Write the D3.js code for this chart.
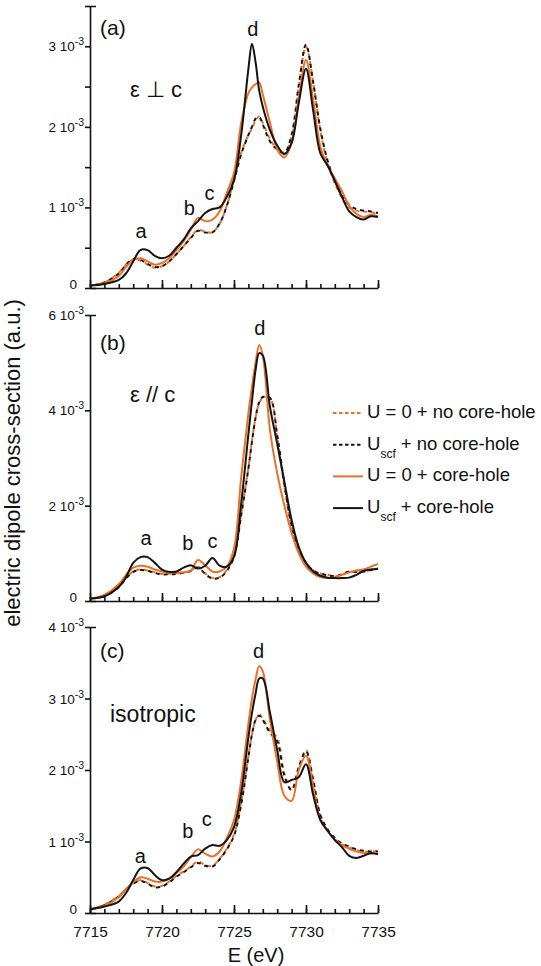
<!DOCTYPE html>
<html>
<head>
<meta charset="utf-8">
<script src="https://cdn.jsdelivr.net/npm/d3@7"></script>
<style>
  body { margin: 0; background: #fff; }
  text { font-family: "Liberation Sans", Arial, sans-serif; fill: #111; }
</style>
</head>
<body>
<svg id="chart"></svg>
<script>
// photon energy (eV), shared by every curve
const energy = [7715, 7716, 7717, 7717.5, 7718, 7718.5, 7719, 7719.5, 7720, 7720.5,
  7721, 7721.5, 7722, 7722.5, 7723, 7723.5, 7724, 7724.5, 7725, 7725.5,
  7726, 7726.25, 7726.5, 7726.75, 7727, 7727.5, 7728, 7728.5, 7729, 7729.5,
  7730, 7730.5, 7731, 7731.5, 7732, 7732.5, 7733, 7733.5, 7734, 7734.5, 7735];

// (a) eps perp c, values in 1e-3 a.u.
const perpU0 = [0.03, 0.07, 0.19, 0.29, 0.35, 0.34, 0.29, 0.25, 0.27, 0.33, 0.42, 0.52, 0.63, 0.72, 0.70, 0.69, 0.80, 1.02, 1.35, 1.68, 1.90, 1.98, 2.08, 2.13, 2.05, 1.85, 1.72, 1.67, 1.88, 2.50, 3.00, 2.55, 1.95, 1.55, 1.30, 1.12, 1.00, 0.96, 0.95, 0.94, 0.92];
const perpUscf = [0.03, 0.07, 0.18, 0.29, 0.36, 0.35, 0.30, 0.26, 0.27, 0.33, 0.42, 0.52, 0.62, 0.71, 0.69, 0.69, 0.80, 1.02, 1.33, 1.66, 1.90, 2.00, 2.10, 2.12, 2.03, 1.82, 1.72, 1.68, 1.90, 2.52, 3.02, 2.55, 1.97, 1.58, 1.33, 1.15, 1.03, 0.98, 0.96, 0.95, 0.93];
const perpU0Hole = [0.03, 0.06, 0.15, 0.26, 0.35, 0.37, 0.33, 0.29, 0.31, 0.37, 0.47, 0.58, 0.72, 0.87, 0.83, 0.85, 0.95, 1.18, 1.43, 2.05, 2.42, 2.49, 2.53, 2.55, 2.40, 2.05, 1.72, 1.62, 1.80, 2.35, 2.83, 2.33, 1.75, 1.52, 1.36, 1.20, 1.02, 0.92, 0.88, 0.91, 0.89];
const perpUscfHole = [0.03, 0.05, 0.10, 0.18, 0.33, 0.47, 0.47, 0.40, 0.37, 0.40, 0.50, 0.60, 0.74, 0.83, 0.93, 0.98, 1.00, 1.13, 1.34, 1.90, 2.72, 3.03, 2.80, 2.45, 2.25, 1.96, 1.77, 1.66, 1.80, 2.30, 2.72, 2.20, 1.67, 1.52, 1.33, 1.13, 0.95, 0.88, 0.85, 0.89, 0.88];

// (b) eps // c
const parU0 = [0.05, 0.10, 0.30, 0.48, 0.62, 0.66, 0.64, 0.60, 0.57, 0.57, 0.58, 0.60, 0.64, 0.72, 0.58, 0.48, 0.50, 0.65, 0.95, 1.84, 2.80, 3.37, 3.85, 4.15, 4.26, 4.25, 3.45, 2.40, 1.55, 1.07, 0.80, 0.65, 0.58, 0.55, 0.52, 0.55, 0.62, 0.60, 0.62, 0.65, 0.68];
const parUscf = [0.05, 0.10, 0.29, 0.47, 0.61, 0.65, 0.63, 0.59, 0.56, 0.56, 0.57, 0.59, 0.63, 0.70, 0.57, 0.47, 0.49, 0.63, 0.93, 1.80, 2.78, 3.35, 3.85, 4.17, 4.28, 4.26, 3.48, 2.45, 1.58, 1.08, 0.80, 0.64, 0.57, 0.54, 0.52, 0.56, 0.62, 0.61, 0.62, 0.65, 0.68];
const parU0Hole = [0.05, 0.13, 0.35, 0.55, 0.70, 0.74, 0.72, 0.66, 0.62, 0.60, 0.60, 0.60, 0.64, 0.86, 0.75, 0.62, 0.62, 0.72, 1.10, 2.60, 3.94, 4.50, 5.00, 5.37, 5.15, 3.58, 2.68, 2.00, 1.43, 1.00, 0.72, 0.58, 0.50, 0.48, 0.50, 0.55, 0.60, 0.64, 0.66, 0.72, 0.78];
const parUscfHole = [0.05, 0.10, 0.30, 0.50, 0.80, 0.92, 0.92, 0.80, 0.66, 0.61, 0.62, 0.70, 0.75, 0.68, 0.74, 0.90, 0.74, 0.72, 0.93, 2.05, 3.50, 4.20, 4.85, 5.20, 5.15, 4.07, 3.30, 2.50, 1.70, 1.13, 0.80, 0.62, 0.53, 0.49, 0.48, 0.48, 0.49, 0.55, 0.63, 0.66, 0.67];

// (c) isotropic
const isoU0 = [0.05, 0.12, 0.24, 0.34, 0.42, 0.46, 0.42, 0.37, 0.38, 0.44, 0.52, 0.58, 0.65, 0.72, 0.67, 0.66, 0.76, 0.90, 1.10, 1.55, 2.20, 2.50, 2.70, 2.78, 2.72, 2.55, 2.45, 1.95, 1.72, 2.05, 2.28, 1.85, 1.35, 1.15, 1.03, 0.96, 0.92, 0.88, 0.86, 0.86, 0.87];
const isoUscf = [0.05, 0.11, 0.23, 0.33, 0.41, 0.45, 0.41, 0.36, 0.37, 0.43, 0.51, 0.57, 0.64, 0.70, 0.66, 0.65, 0.75, 0.89, 1.08, 1.52, 2.18, 2.50, 2.70, 2.76, 2.70, 2.52, 2.40, 1.92, 1.72, 2.03, 2.26, 1.86, 1.37, 1.17, 1.05, 0.97, 0.93, 0.89, 0.87, 0.86, 0.86];
const isoU0Hole = [0.05, 0.10, 0.22, 0.33, 0.43, 0.50, 0.48, 0.44, 0.44, 0.48, 0.56, 0.65, 0.78, 0.89, 0.83, 0.79, 0.86, 1.05, 1.30, 1.85, 2.65, 3.00, 3.27, 3.45, 3.38, 2.70, 2.12, 1.64, 1.57, 2.00, 2.20, 1.76, 1.30, 1.15, 1.03, 0.95, 0.90, 0.86, 0.84, 0.83, 0.84];
const isoUscfHole = [0.05, 0.09, 0.16, 0.28, 0.46, 0.62, 0.63, 0.53, 0.46, 0.48, 0.57, 0.69, 0.79, 0.81, 0.90, 0.95, 0.94, 1.02, 1.20, 1.68, 2.46, 2.80, 3.07, 3.28, 3.28, 2.80, 2.28, 1.83, 1.86, 1.90, 2.08, 1.65, 1.30, 1.15, 1.02, 0.92, 0.80, 0.77, 0.80, 0.84, 0.82];

const xTicks = [7715, 7720, 7725, 7730, 7735];
const peakNames = ['a', 'b', 'c', 'd'];
const legendNames = [
  ['U = 0 + no core-hole'],
  ['U', 'scf', ' + no core-hole'],
  ['U = 0 + core-hole'],
  ['U', 'scf', ' + core-hole']
];

const W = 541, H = 966;
const orange = '#e9712b', black = '#141414';

const svg = d3.select('#chart').attr('width', W).attr('height', H);

const x = d3.scaleLinear().domain([7715, 7735]).range([90, 378]);

const seriesStyle = [
  {color: orange, dash: '4,4', offset: 0},
  {color: black, dash: '4,4', offset: 4},
  {color: orange, dash: null},
  {color: black, dash: null}
];

// layout of the three stacked panels
const panels = [
  {tag: '(a)', note: 'ε ⊥ c', top: 6, bottom: 288, max: 3.5,
   labels: [0, 1, 2, 3], ticks: d3.range(0, 3.51, 0.5),
   series: [perpU0, perpUscf, perpU0Hole, perpUscfHole],
   peaks: [[7718.55, 0.62], [7721.9, 0.91], [7723.3, 1.09], [7726.3, 3.13]]},
  {tag: '(b)', note: 'ε // c', top: 315, bottom: 601, max: 6,
   labels: [0, 2, 4, 6], ticks: [0, 2, 4, 6],
   series: [parU0, parUscf, parU0Hole, parUscfHole],
   peaks: [[7718.9, 1.17], [7721.8, 1.07], [7723.5, 1.11], [7726.8, 5.58]]},
  {tag: '(c)', note: 'isotropic', top: 627, bottom: 913, max: 4,
   labels: [0, 1, 2, 3, 4], ticks: [0, 1, 2, 3, 4],
   series: [isoU0, isoUscf, isoU0Hole, isoUscfHole],
   peaks: [[7718.5, 0.7], [7721.8, 1.05], [7723.1, 1.22], [7726.7, 3.57]]}
];

panels.forEach((p, pi) => {
  const y = d3.scaleLinear().domain([0, p.max]).range([p.bottom, p.top]);
  const g = svg.append('g');

  const line = d3.line()
    .x((d, i) => x(energy[i]))
    .y(d => y(d))
    .curve(d3.curveCatmullRom.alpha(0.5));

  g.selectAll('path.curve')
    .data(p.series)
    .enter().append('path')
    .attr('class', 'curve')
    .attr('d', line)
    .attr('fill', 'none')
    .attr('stroke', (d, i) => seriesStyle[i].color)
    .attr('stroke-width', 2)
    .attr('stroke-dasharray', (d, i) => seriesStyle[i].dash)
    .attr('stroke-dashoffset', (d, i) => seriesStyle[i].offset || 0);

  // y axis
  g.append('g')
    .attr('transform', 'translate(90,0)')
    .call(d3.axisLeft(y).tickValues(p.ticks).tickSize(5).tickSizeOuter(-6).tickFormat(''));

  // x axis, ticks pointing inward
  g.append('g')
    .attr('transform', 'translate(0,' + p.bottom + ')')
    .call(d3.axisBottom(x).tickValues(d3.range(7715, 7736, 1)).tickSize(-4).tickSizeOuter(0).tickFormat(''));
  g.append('g')
    .attr('transform', 'translate(0,' + p.bottom + ')')
    .call(d3.axisBottom(x).tickValues(xTicks).tickSize(-8).tickSizeOuter(0).tickPadding(13)
      .tickFormat(pi === 2 ? d3.format('d') : ''))
    .call(s => s.select('.domain').remove())
    .selectAll('text').style('font-size', '15.5px').attr('fill', '#111');

  g.selectAll('.domain, .tick line').attr('stroke', '#111').attr('stroke-width', 1.6);

  // y tick labels like "3 10^-3"
  p.labels.forEach(v => {
    const t = g.append('text')
      .attr('text-anchor', 'end')
      .style('font-size', '13.5px');
    if (v === 0) {
      t.attr('x', 77).attr('y', y(v) + 1).text('0');
    } else {
      t.attr('x', 84).attr('y', y(v) + 5);
      t.append('tspan').text(v + ' 10');
      t.append('tspan').attr('dy', -6).style('font-size', '10.5px').text('-3');
    }
  });

  // panel tag and polarisation note
  g.append('text').attr('x', 100).attr('y', y(p.max) + (pi === 0 ? 29 : pi === 1 ? 35 : 31))
    .style('font-size', '21px').text(p.tag);
  g.append('text').attr('x', pi === 2 ? 110 : 130)
    .attr('y', pi === 0 ? 97 : pi === 1 ? 402 : 722)
    .style('font-size', pi === 2 ? '23px' : '22px').text(p.note);

  // peak letters
  g.selectAll('text.peak')
    .data(p.peaks)
    .enter().append('text')
    .attr('class', 'peak')
    .attr('x', d => x(d[0]))
    .attr('y', d => y(d[1]))
    .attr('text-anchor', 'middle')
    .style('font-size', '20px')
    .text((d, i) => peakNames[i]);
});

// legend
const leg = svg.append('g');
legendNames.forEach((parts, i) => {
  const ly = 413 + i * 31.7;
  const st = seriesStyle[i];
  leg.append('line')
    .attr('x1', 333).attr('x2', 363).attr('y1', ly).attr('y2', ly)
    .attr('stroke', st.color).attr('stroke-width', 2)
    .attr('stroke-dasharray', st.dash ? '3.5,2.5' : null);
  const t = leg.append('text').attr('x', 367).attr('y', ly + 5).style('font-size', '18.5px');
  if (parts.length === 1) {
    t.text(parts[0]);
  } else {
    t.append('tspan').text(parts[0]);
    t.append('tspan').attr('dy', 8).style('font-size', '12px').text(parts[1]);
    t.append('tspan').attr('dy', -8).text(parts[2]);
  }
});

// axis titles
svg.append('text')
  .attr('transform', 'translate(20,463) rotate(-90)')
  .attr('text-anchor', 'middle')
  .style('font-size', '22px')
  .text('electric dipole cross-section (a.u.)');

svg.append('text')
  .attr('x', 256).attr('y', 962)
  .attr('text-anchor', 'middle')
  .style('font-size', '20px')
  .text('E (eV)');
</script>
</body>
</html>
